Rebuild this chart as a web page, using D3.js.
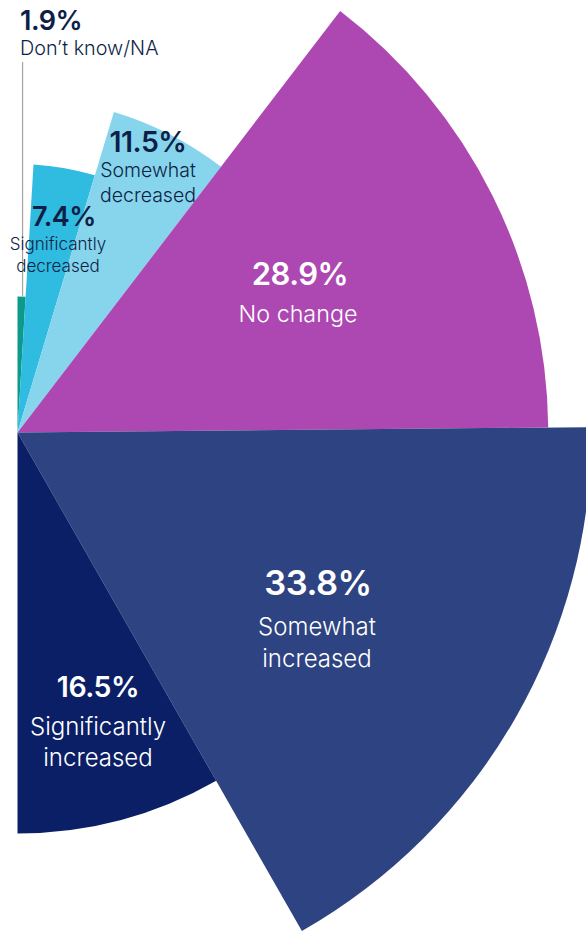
<!DOCTYPE html>
<html>
<head>
<meta charset="utf-8">
<script src="https://cdn.jsdelivr.net/npm/d3@7"></script>
<style>
  html, body { margin: 0; padding: 0; background: #ffffff; }
  svg { display: block; }
  text { font-family: Inter, "Noto Sans", sans-serif; }
</style>
</head>
<body>
<svg id="chart" width="586" height="932"></svg>
<script>
// Survey answers, clockwise from the top of the half-circle
const categories = ["Don’t know/NA", "Significantly decreased", "Somewhat decreased", "No change", "Somewhat increased", "Significantly increased"];
const shares = [1.9, 7.4, 11.5, 28.9, 33.8, 16.5];
const nameLines = [["Don’t know/NA"], ["Significantly", "decreased"], ["Somewhat", "decreased"], ["No change"], ["Somewhat", "increased"], ["Significantly", "increased"]];
const sliceColors = ["#0e9a8b", "#30bbe1", "#86d5ec", "#ad48b2", "#2e4381", "#0b1f66"];

// Text placement for each slice's label block (value line baseline, then name lines)
const labelLayout = [
  { x: 20,  y: 30,  anchor: "start",  fill: "#0e1f47", vSize: 27,   nSize: 19.8, gap: 25, nx: 20 },
  { x: 64,  y: 226, anchor: "middle", fill: "#0e1f47", vSize: 27,   nSize: 17,   gap: 24, nx: 58 },
  { x: 148, y: 152, anchor: "middle", fill: "#0e1f47", vSize: 28.5, nSize: 19.5, gap: 25, nx: 148 },
  { x: 300, y: 285, anchor: "middle", fill: "#ffffff", vSize: 31,   nSize: 23.3, gap: 36.5, nx: 298 },
  { x: 318, y: 595, anchor: "middle", fill: "#ffffff", vSize: 34.5, nSize: 24,   gap: 40, nx: 317 },
  { x: 98,  y: 697, anchor: "middle", fill: "#ffffff", vSize: 28.5, nSize: 24,   gap: 37.5, nx: 98 }
];
const nameLineHeight = [24, 22, 25, 30, 31.5, 31];

const svg = d3.select("#chart");
const cx = 17.5, cy = 432.5;

const radius = d3.scaleSqrt().domain([0, d3.max(shares)]).range([0, 574]);

const pie = d3.pie().sort(null).startAngle(0).endAngle(Math.PI).value(d => d);
const arcs = pie(shares);

const arc = d3.arc()
  .innerRadius(0)
  .outerRadius(d => radius(d.data));

const g = svg.append("g").attr("transform", `translate(${cx},${cy})`);

g.selectAll("path.slice")
  .data(arcs)
  .join("path")
  .attr("class", "slice")
  .attr("d", arc)
  .attr("fill", (d, i) => sliceColors[i]);

// Leader line from the small "Don't know" slice up to its label
const first = arcs[0];
const midA = (first.startAngle + first.endAngle) / 2;
const tipR = radius(first.data);
svg.append("line")
  .attr("x1", cx + tipR * Math.sin(midA) + 1)
  .attr("x2", cx + tipR * Math.sin(midA) + 1)
  .attr("y1", 62)
  .attr("y2", cy - tipR * Math.cos(midA))
  .attr("stroke", "#a3a3a3")
  .attr("stroke-width", 1.2);

// Labels
const labels = svg.append("g");
arcs.forEach((d, i) => {
  const L = labelLayout[i];
  labels.append("text")
    .attr("x", L.x)
    .attr("y", L.y)
    .attr("text-anchor", L.anchor)
    .attr("fill", L.fill)
    .attr("font-size", L.vSize)
    .attr("font-weight", 600)
    .attr("letter-spacing", "-0.5")
    .text(d3.format(".1f")(d.data) + "%");
  nameLines[i].forEach((line, k) => {
    labels.append("text")
      .attr("x", L.nx)
      .attr("y", L.y + L.gap + k * nameLineHeight[i])
      .attr("text-anchor", L.anchor)
      .attr("fill", L.fill)
      .attr("font-size", L.nSize)
      .attr("font-weight", 300)
      .text(line);
  });
});
</script>
</body>
</html>
